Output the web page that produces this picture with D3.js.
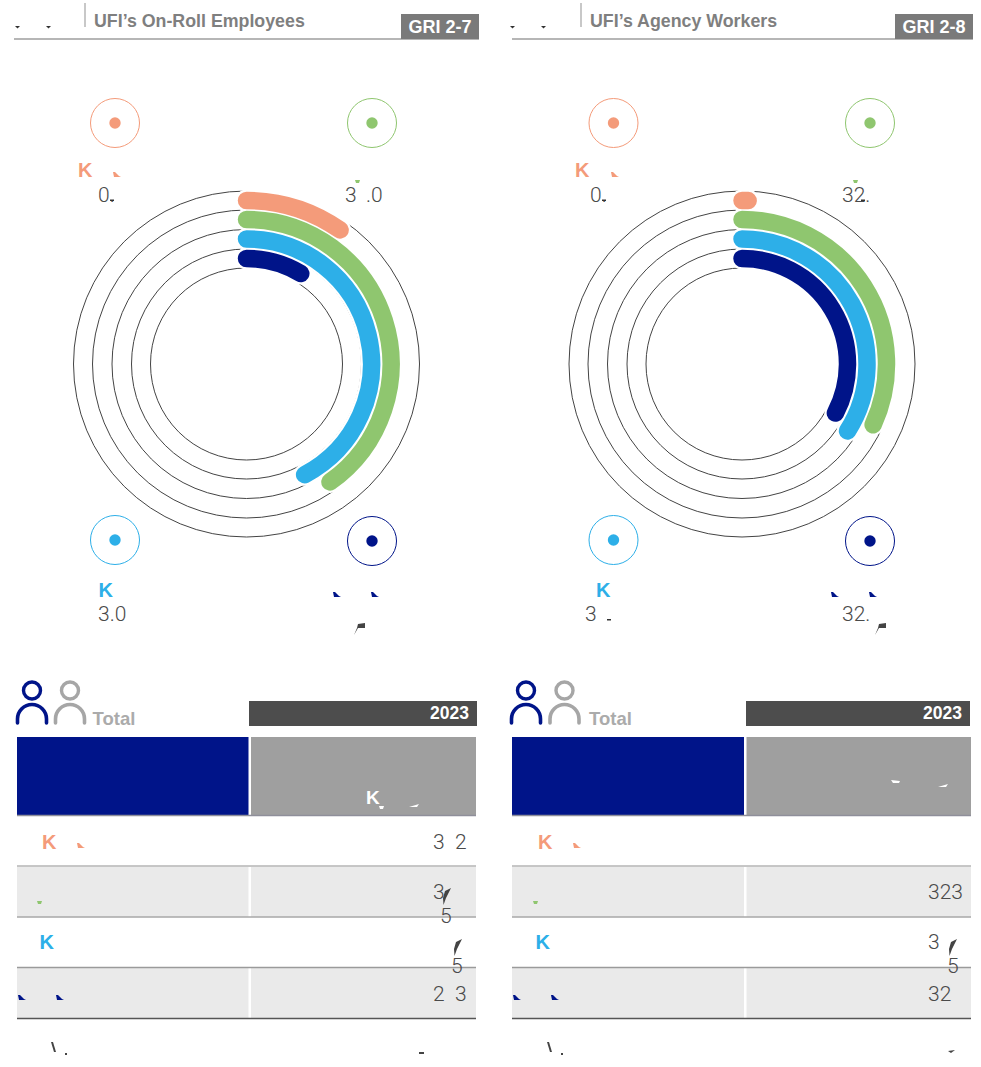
<!DOCTYPE html>
<html><head><meta charset="utf-8">
<script src="https://cdn.jsdelivr.net/npm/d3@7"></script>
<style>
html,body{margin:0;padding:0;background:#fff;overflow:hidden}
svg{display:block}
text{font-family:"Liberation Sans",Arial,sans-serif}
text.num{font-family:Roboto,"Liberation Sans",sans-serif;font-weight:300}
</style></head><body>
<svg id="c" width="981" height="1067"></svg>
<script>
// data (percent of full circle, read from the arcs)
const seriesColors = ["#F49B7A", "#8FC66F", "#2DAFE8", "#001489"];
const onRollValues = [9.7, 40.2, 42.3, 8.6];
const agencyValues = [0.6, 31.9, 34.0, 32.7];
const panelTitles = ["UFI\u2019s On-Roll Employees", "UFI\u2019s Agency Workers"];
const griCodes = ["GRI 2-7", "GRI 2-8"];
const tableYear = "2023";
const totalLabel = "Total";
const rowFills = ["#fff", "#EAEAEA", "#fff", "#EAEAEA"];

const svg = d3.select("#c");
const DARK = "#4a4a4a";
const angle = d3.scaleLinear().domain([0, 100]).range([0, 2 * Math.PI]);
const ringR = [173, 154, 134.5, 115, 96];
const arcR = [163.5, 144.5, 125, 105.5];

function txt(g, x, y, s, o = {}) {
  return g.append("text").attr("x", x).attr("y", y).text(s)
    .attr("font-size", o.size || 20).attr("fill", o.fill || DARK)
    .attr("font-weight", o.weight || 400).attr("text-anchor", o.anchor || "start");
}
function num(g, x, y, s, size = 21) {
  return txt(g, x, y, s, {size}).attr("class", "num").attr("font-weight", null);
}
// small leftover glyph slivers seen in the picture
function sliver(g, x, y, d, fill) {
  g.append("path").attr("transform", `translate(${x},${y})`).attr("d", d).attr("fill", fill);
}
const TICK = "M0,0L5,0L2.5,2.5Z", WEDGE = "M0,0L2,0L6,4L8,5L1,5Z", CUP = "M0,0L5,0L4,3L1,3Z";
const LEAF = "M8,0L2,3L0,10L0.5,17L3,10Z", SLIT = "M0,3L10,0L8,3Z";
const FLAG = "M1,2L8,1L8,6L1,6L-3,13L0,6Z";

function panel(i, geo, values, lab) {
  const g = svg.append("g"), cx = geo.cx;
  // heading
  g.append("line").attr("x1", geo.hx).attr("x2", geo.hr).attr("y1", 39).attr("y2", 39).attr("stroke", "#b6b6b6").attr("stroke-width", 2);
  g.append("line").attr("x1", geo.vx).attr("x2", geo.vx).attr("y1", 3).attr("y2", 27).attr("stroke", "#b6b6b6").attr("stroke-width", 1.5);
  txt(g, geo.vx + 9, 27, panelTitles[i], {size: 17.8, weight: 700, fill: "#7f7f7f"});
  g.append("rect").attr("x", geo.hr - 78).attr("y", 14).attr("width", 78).attr("height", 25).attr("fill", "#7a7a7a");
  txt(g, geo.hr - 39, 33, griCodes[i], {size: 18, weight: 700, fill: "#fff", anchor: "middle"});
  geo.ticks.forEach(x => sliver(g, x, 26, TICK, "#333"));

  // rings and arcs
  const c = g.append("g").attr("transform", `translate(${cx},364)`);
  c.selectAll("circle").data(ringR).join("circle").attr("r", d => d)
    .attr("fill", "none").attr("stroke", "#444").attr("stroke-width", 1);
  const arc = (d, k) => {
    const p = d3.path();
    p.arc(0, 0, arcR[k], -Math.PI / 2, -Math.PI / 2 + angle(d));
    return p.toString();
  };
  [[22, "#fff"], [17.5, null]].forEach(([w, col]) => {
    c.append("g").selectAll("path").data(values).join("path")
      .attr("d", arc).attr("fill", "none").attr("stroke-width", w)
      .attr("stroke-linecap", "round")
      .attr("stroke", (d, k) => col || seriesColors[k]);
  });

  // legend targets
  const ly = [123, 123, 540, 541];
  seriesColors.forEach((col, k) => {
    const x = geo.lx[k % 2];
    g.append("circle").attr("cx", x).attr("cy", ly[k]).attr("r", 24.5).attr("fill", "none").attr("stroke", col).attr("stroke-width", 1);
    g.append("circle").attr("cx", x).attr("cy", ly[k]).attr("r", 5.7).attr("fill", col);
  });

  // table
  const tx = geo.tx, split = geo.split, right = geo.right;
  const rowY = d3.scaleLinear().domain([0, 4]).range([816, 1018.5]);
  g.append("rect").attr("x", geo.yx).attr("y", 701).attr("width", geo.yr - geo.yx).attr("height", 25).attr("fill", "#4d4d4d");
  txt(g, geo.yr - 8, 719, tableYear, {size: 17.5, weight: 700, fill: "#fff", anchor: "end"});
  g.append("rect").attr("x", tx).attr("y", 737).attr("width", split - 1 - tx).attr("height", 78).attr("fill", "#001489");
  g.append("rect").attr("x", split + 1.5).attr("y", 737).attr("width", right - split - 1.5).attr("height", 78).attr("fill", "#9f9f9f");
  g.append("g").selectAll("rect").data(rowFills).join("rect")
    .attr("x", tx).attr("width", right - tx).attr("y", (d, k) => rowY(k)).attr("height", 51).attr("fill", d => d);
  g.append("rect").attr("x", split - 1).attr("y", 867).attr("width", 2.5).attr("height", 50).attr("fill", "#fff");
  g.append("rect").attr("x", split - 1).attr("y", 968).attr("width", 2.5).attr("height", 50).attr("fill", "#fff");
  [["#8f8f9a", 815.5], ["#b5b5b5", 866], ["#a8a8a8", 917], ["#9a9a9a", 967.5], ["#555", 1018.5]].forEach(([col, y]) => {
    g.append("line").attr("x1", tx).attr("x2", right).attr("y1", y).attr("y2", y).attr("stroke", col).attr("stroke-width", 1.5);
  });

  // person icons
  [[geo.px[0], "#001489"], [geo.px[1], "#a6a6a6"]].forEach(([px, col]) => {
    g.append("circle").attr("cx", px).attr("cy", 690.5).attr("r", 8.5).attr("fill", "none").attr("stroke", col).attr("stroke-width", 3.4);
    g.append("path").attr("d", `M${px - 14.5},723 V719 A14.5,14.5 0 0 1 ${px + 14.5},719 V723`)
      .attr("fill", "none").attr("stroke", col).attr("stroke-width", 3.6).attr("stroke-linecap", "round");
  });
  txt(g, geo.totalX, 725, totalLabel, {size: 18.5, weight: 700, fill: "#ababab"});

  lab(g);
}

panel(0, {cx: 246.5, hx: 14, hr: 479, vx: 85, ticks: [15, 46], lx: [115, 372], tx: 17, split: 249.5, right: 476, yx: 249, yr: 477, px: [32, 70], totalX: 92.5}, onRollValues, (g) => {
  txt(g, 78, 177, "K", {size: 20, weight: 700, fill: seriesColors[0]});
  sliver(g, 113, 172, WEDGE, seriesColors[0]);
  num(g, 98, 202, "0."); sliver(g, 110, 199.5, "M0,0L4,0L4,1.5L0,1.5Z", "#333");
  num(g, 345, 202, "3"); num(g, 366, 202, ".0");
  sliver(g, 355, 180, CUP, seriesColors[1]);
  txt(g, 98.5, 597, "K", {size: 20, weight: 700, fill: seriesColors[2]});
  num(g, 98, 621, "3.0");
  sliver(g, 333, 592, WEDGE, seriesColors[3]); sliver(g, 371, 592, WEDGE, seriesColors[3]);
  sliver(g, 357, 622, FLAG, "#444");

  txt(g, 366, 804, "K", {size: 19, weight: 700, fill: "#fff"});
  sliver(g, 379, 806, CUP, "#fff"); sliver(g, 409, 804, SLIT, "#fff");
  txt(g, 42, 849, "K", {size: 20, weight: 700, fill: seriesColors[0]});
  sliver(g, 77, 843, WEDGE, seriesColors[0]);
  num(g, 433, 849, "3"); num(g, 455, 849, "2");
  sliver(g, 37, 901, CUP, seriesColors[1]);
  num(g, 433, 899, "3");
  sliver(g, 443, 888, LEAF, "#444"); num(g, 440, 923, "5");
  txt(g, 39.5, 949, "K", {size: 20, weight: 700, fill: seriesColors[2]});
  sliver(g, 454, 939, LEAF, "#444"); num(g, 451, 973, "5");
  sliver(g, 18, 995, WEDGE, seriesColors[3]); sliver(g, 56, 995, WEDGE, seriesColors[3]);
  num(g, 433, 1001, "2"); num(g, 455, 1001, "3");
  sliver(g, 51, 1042, "M0,0L2,0L5,10L3,10Z", "#444"); sliver(g, 65, 1053, "M0,0L2,0L2,2L0,2Z", "#444");
  sliver(g, 419, 1052, "M0,0L5,0L5,2L0,2Z", "#444");
});
panel(1, {cx: 742, hx: 512, hr: 973, vx: 581, ticks: [510, 541], lx: [613.5, 870], tx: 512, split: 745, right: 971, yx: 746, yr: 970, px: [526, 564.5], totalX: 589}, agencyValues, (g) => {
  txt(g, 575, 177, "K", {size: 20, weight: 700, fill: seriesColors[0]});
  sliver(g, 611, 172, WEDGE, seriesColors[0]);
  num(g, 590, 202, "0."); sliver(g, 602, 199.5, "M0,0L4,0L4,1.5L0,1.5Z", "#333");
  num(g, 842, 202, "32."); sliver(g, 861, 199.5, "M0,0L4,0L4,1.5L0,1.5Z", "#333");
  sliver(g, 853, 180, CUP, seriesColors[1]);
  txt(g, 596, 597, "K", {size: 20, weight: 700, fill: seriesColors[2]});
  num(g, 585, 621, "3"); sliver(g, 607, 619, "M0,0L4,0L4,1.5L0,1.5Z", "#333");
  sliver(g, 831, 592, WEDGE, seriesColors[3]); sliver(g, 869, 592, WEDGE, seriesColors[3]);
  num(g, 842, 621, "32.");
  sliver(g, 878, 622, FLAG, "#444");

  sliver(g, 891, 780, "M0,0L9,1L8,3L2,3Z", "#fff"); sliver(g, 938, 784, SLIT, "#fff");
  txt(g, 538, 849, "K", {size: 20, weight: 700, fill: seriesColors[0]});
  sliver(g, 573, 843, WEDGE, seriesColors[0]);
  sliver(g, 533, 901, CUP, seriesColors[1]);
  num(g, 928, 899, "323");
  txt(g, 535.5, 949, "K", {size: 20, weight: 700, fill: seriesColors[2]});
  num(g, 928, 949, "3");
  sliver(g, 949, 939, LEAF, "#444"); num(g, 947, 973, "5");
  sliver(g, 513, 995, WEDGE, seriesColors[3]); sliver(g, 551, 995, WEDGE, seriesColors[3]);
  num(g, 928, 1001, "32");
  sliver(g, 547, 1042, "M0,0L2,0L5,10L3,10Z", "#444"); sliver(g, 561, 1053, "M0,0L2,0L2,2L0,2Z", "#444");
  sliver(g, 948, 1050, "M0,1L7,0L3,3Z", "#444");
});
</script></body></html>
